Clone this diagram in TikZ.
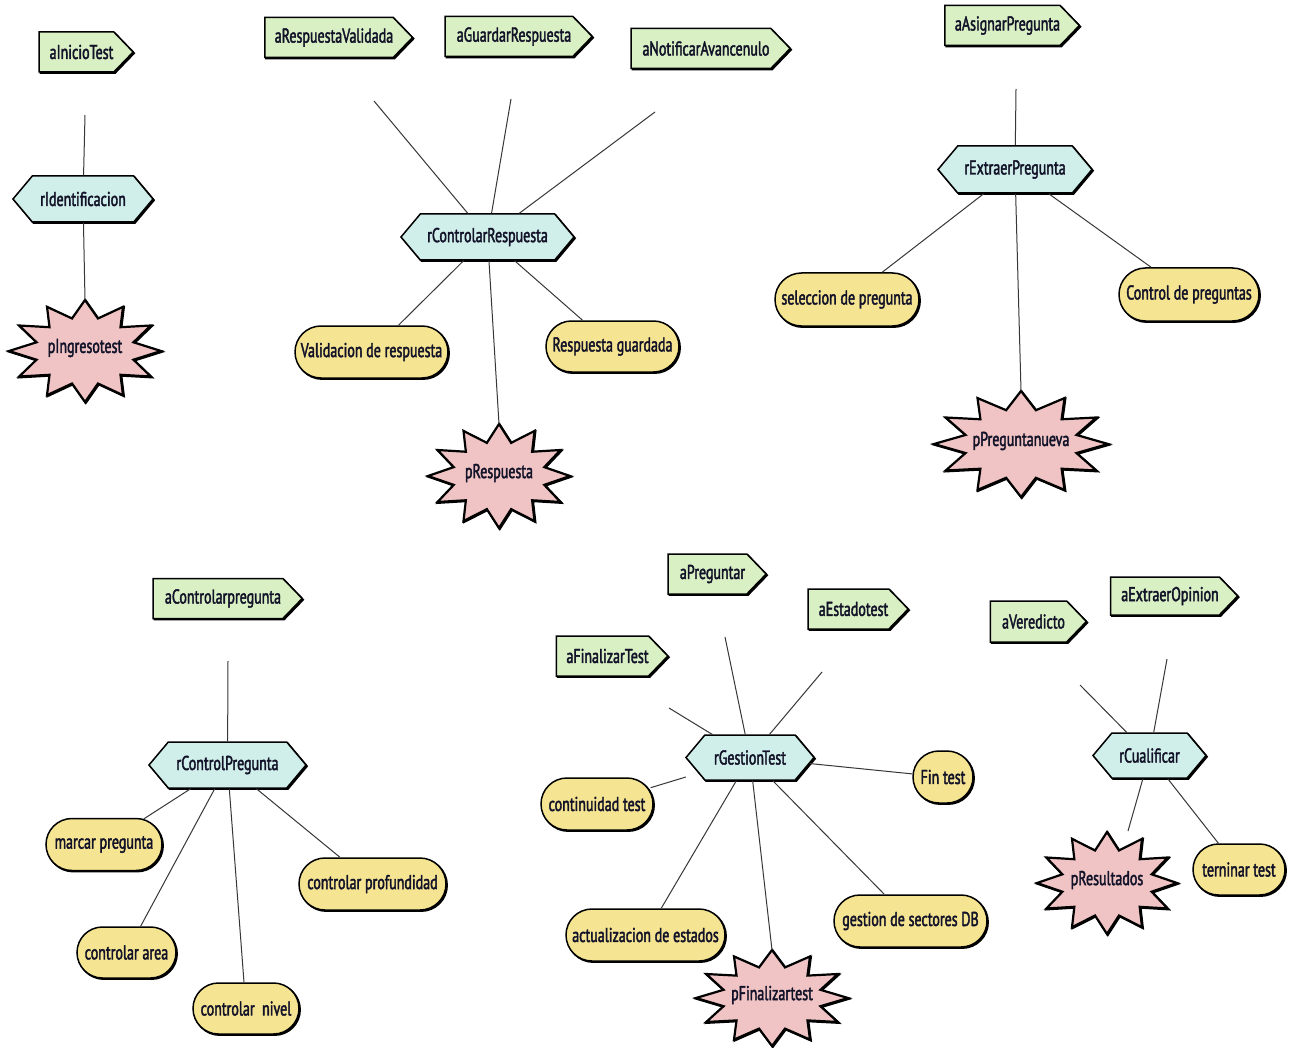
\documentclass[tikz,border=0pt]{standalone}
\usepackage{fontspec}
\setmainfont{PT Sans}[FakeStretch=0.7,FakeBold=2]
\usetikzlibrary{shapes.symbols,shapes.misc,shadows}

\definecolor{actfill}{RGB}{217,240,196}
\definecolor{resfill}{RGB}{208,238,234}
\definecolor{tskfill}{RGB}{245,228,146}
\definecolor{prdfill}{RGB}{240,196,196}
\definecolor{inkcol}{RGB}{18,18,40}
\definecolor{linkcol}{RGB}{55,55,55}

\tikzset{
  lbl/.style={text=inkcol, font=\fontsize{20}{23}\selectfont},
  boxed/.style={lbl, draw=black, line width=1.5pt, inner sep=0pt,
    general shadow={shadow xshift=1.2pt, shadow yshift=-1.2pt,
      fill=black, draw=black, line width=1.5pt}},
  act/.style={boxed, signal, signal to=east, signal pointer angle=92,
    fill=actfill, minimum height=40pt, execute at begin node={\hspace*{10pt}}},
  res/.style={boxed, signal, signal to=east and west, signal pointer angle=100,
    fill=resfill, minimum height=46pt},
  tsk/.style={boxed, rounded rectangle, fill=tskfill, minimum height=52pt},
  prd/.style={fill=prdfill, draw=black, line width=2.2pt, line join=miter,
    general shadow={shadow xshift=0.8pt, shadow yshift=-0.8pt,
      fill=black, draw=black, line width=2.2pt}},
  link/.style={draw=linkcol, line width=1pt},
}

% twelve-point burst: name, centre x, centre y, x radius, y radius, label
\newcommand\burst[6]{%
  \begin{scope}[shift={(#2,#3)}]
    \draw[prd] (0:#4 and #5)
      \foreach \k [evaluate=\k as \f using {ifthenelse(mod(\k,2)==0,1,0.66)}] in {1,...,23}
        { -- ({\k*15}:{\f*#4} and {\f*#5}) } -- cycle;
  \end{scope}
  \node[lbl, inner sep=0pt] (#1) at (#2,{#3-3}) {#6};
  \coordinate (#1-top) at (#2,{#3-#5});
}

\begin{document}
\begin{tikzpicture}[x=1pt, y=-1pt]
\useasboundingbox (0,0) rectangle (1289,1048);
\fill[white] (0,0) rectangle (1289,1048);

% ---- identification ----
\node[act, minimum width=94pt] (aIni) at (76.5,52) {aInicioTest};
\node[res, minimum width=140pt] (rId) at (83,199) {rIdentificacion};
\burst{pIng}{85}{351}{76}{51}{pIngresotest}
\coordinate (fIni) at (85,115);
\draw[link] (rId) -- (fIni);
\draw[link] (rId) -- (pIng-top);

% ---- answer control ----
\node[act, minimum width=147pt] (aRV) at (329,37.5) {aRespuestaValidada};
\node[act, minimum width=147pt] (aGR) at (509,36.5) {aGuardarRespuesta};
\node[act, minimum width=159pt] (aNA) at (701,48.5) {aNotificarAvancenulo};
\node[res, minimum width=173pt] (rCR) at (487.5,237) {rControlarRespuesta};
\node[tsk, minimum width=153pt] (tVal) at (371.5,352) {Validacion de respuesta};
\node[tsk, minimum width=133pt, minimum height=51pt] (tGua) at (612.5,346.5) {Respuesta guardada};
\burst{pRes}{499}{476}{71}{52}{pRespuesta}
\coordinate (fRV) at (374,101);
\coordinate (fGR) at (511,99);
\coordinate (fNA) at (655,112);
\draw[link] (rCR) -- (fRV);
\draw[link] (rCR) -- (fGR);
\draw[link] (rCR) -- (fNA);
\draw[link] (rCR) -- (tVal);
\draw[link] (rCR) -- (tGua);
\draw[link] (rCR) -- (pRes-top);

% ---- question extraction ----
\node[act, minimum width=134pt] (aAP) at (1002.5,25.5) {aAsignarPregunta};
\node[res, minimum width=154pt, minimum height=47pt] (rEP) at (1015,169.5) {rExtraerPregunta};
\node[tsk, minimum width=144pt, minimum height=53pt] (tSel) at (847,299.5) {seleccion de pregunta};
\node[tsk, minimum width=140pt, minimum height=53pt] (tCtl) at (1189,294.5) {Control de preguntas};
\burst{pPre}{1021}{444}{87}{53}{pPreguntanueva}
\coordinate (fAP) at (1016,89);
\draw[link] (rEP) -- (fAP);
\draw[link] (rEP) -- (tSel);
\draw[link] (rEP) -- (tCtl);
\draw[link] (rEP) -- (pPre-top);

% ---- question control ----
\node[act, minimum width=149pt] (aCP) at (218,598.5) {aControlarpregunta};
\node[res, minimum width=157pt] (rCP) at (227.5,765) {rControlPregunta};
\node[tsk, minimum width=116pt] (tMar) at (104,844.5) {marcar pregunta};
\node[tsk, minimum width=99pt, minimum height=51pt] (tAre) at (126.5,952.5) {controlar area};
\node[tsk, minimum width=106pt, minimum height=51pt] (tNiv) at (246,1008.5) {controlar\ \ nivel};
\node[tsk, minimum width=147pt] (tPro) at (372.5,884) {controlar profundidad};
\coordinate (fCP) at (228,661);
\draw[link] (rCP) -- (fCP);
\draw[link] (rCP) -- (tMar);
\draw[link] (rCP) -- (tAre);
\draw[link] (rCP) -- (tNiv);
\draw[link] (rCP) -- (tPro);

% ---- test management ----
\node[act, minimum width=98pt] (aPr) at (707.5,574) {aPreguntar};
\node[act, minimum width=100pt] (aEs) at (848.5,609) {aEstadotest};
\node[act, minimum width=110pt] (aFi) at (602.5,656) {aFinalizarTest};
\node[res, minimum width=128pt, minimum height=45pt] (rGT) at (750,757.5) {rGestionTest};
\node[tsk, minimum width=60pt] (tFin) at (943,777) {Fin test};
\node[tsk, minimum width=112pt] (tCon) at (597,804) {continuidad test};
\node[tsk, minimum width=159pt] (tAct) at (645.5,935) {actualizacion de estados};
\node[tsk, minimum width=153pt] (tGes) at (910.5,921) {gestion de sectores DB};
\burst{pFin}{772}{998}{76}{48}{pFinalizartest}
\coordinate (fFi) at (669,708);
\coordinate (fPr) at (725,637);
\coordinate (fEs) at (822,672);
\draw[link] (rGT) -- (fFi);
\draw[link] (rGT) -- (fPr);
\draw[link] (rGT) -- (fEs);
\draw[link, shorten <=13pt, shorten >=2pt] (rGT) -- (tCon);
\draw[link] (rGT) -- (tFin);
\draw[link] (rGT) -- (tAct);
\draw[link] (rGT) -- (pFin-top);
\draw[link] (rGT) -- (tGes);

% ---- grading ----
\node[act, minimum width=96pt, minimum height=41pt] (aVe) at (1028.5,621.5) {aVeredicto};
\node[act, minimum width=127pt, minimum height=38pt] (aEO) at (1165,596) {aExtraerOpinion};
\node[res, minimum width=113pt, minimum height=45pt] (rCu) at (1149.5,755.5) {rCualificar};
\node[tsk, minimum width=92pt, minimum height=51pt] (tTer) at (1239,869.5) {terninar test};
\burst{pRsl}{1107}{883}{70}{51}{pResultados}
\coordinate (fVe) at (1080,685);
\coordinate (fEO) at (1167,659);
\coordinate (fRsl) at (1128,831);
\draw[link] (rCu) -- (fVe);
\draw[link] (rCu) -- (fEO);
\draw[link] (rCu) -- (fRsl);
\draw[link] (rCu) -- (tTer);
\end{tikzpicture}
\end{document}
